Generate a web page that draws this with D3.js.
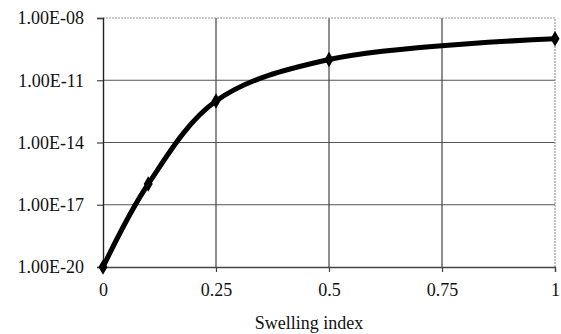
<!DOCTYPE html>
<html><head><meta charset="utf-8">
<script src="https://cdn.jsdelivr.net/npm/d3@7"></script>
<style>body{margin:0;background:#fff}</style>
</head><body>
<svg id="c" width="561" height="334"></svg>
<script>
const swellingIndex = [0, 0.1, 0.25, 0.5, 1];
const values = [1e-20, 1e-16, 1e-12, 1e-10, 1e-9];
const xTicks = [0, 0.25, 0.5, 0.75, 1];
const xTickLabels = ["0", "0.25", "0.5", "0.75", "1"];
const yTicks = [1e-20, 1e-17, 1e-14, 1e-11, 1e-8];
const yTickLabels = ["1.00E-20", "1.00E-17", "1.00E-14", "1.00E-11", "1.00E-08"];
const xTitle = "Swelling index";

const svg = d3.select("#c");
const L = 103, R = 555, T = 18, B = 267;
const x = d3.scaleLinear().domain([0, 1]).range([L, R]);
const y = d3.scaleLog().domain([1e-20, 1e-8]).range([B, T]);
const font = "'Liberation Serif','Times New Roman',serif";

svg.append("g").selectAll("line").data(yTicks.slice(1, -1)).join("line")
  .attr("x1", L).attr("x2", R).attr("y1", d => y(d)).attr("y2", d => y(d))
  .attr("stroke", "#555").attr("stroke-width", 1.2);
svg.append("g").selectAll("line").data(xTicks.slice(1, -1)).join("line")
  .attr("y1", T).attr("y2", B).attr("x1", d => x(d)).attr("x2", d => x(d))
  .attr("stroke", "#444").attr("stroke-width", 1.2);
svg.append("path").attr("d", `M${L},${T}H${R}V${B}`).attr("fill", "none")
  .attr("stroke", "#999").attr("stroke-width", 1.2).attr("stroke-dasharray", "2,1");

const yAxis = svg.append("g").attr("transform", `translate(${L},0)`)
  .call(d3.axisLeft(y).tickValues(yTicks).tickFormat((d, i) => yTickLabels[i]).tickSize(6).tickPadding(13));
yAxis.select(".domain").attr("stroke", "#222").attr("stroke-width", 1.4);
yAxis.selectAll(".tick line").attr("stroke", "#444").attr("stroke-width", 1.2);
yAxis.selectAll("text").attr("font-family", font).attr("font-size", 18).attr("fill", "#111");

const xAxis = svg.append("g").attr("transform", `translate(0,${B})`)
  .call(d3.axisBottom(x).tickValues(xTicks).tickFormat((d, i) => xTickLabels[i]).tickSize(5).tickPadding(11));
xAxis.select(".domain").attr("stroke", "#444").attr("stroke-width", 1.3);
xAxis.selectAll(".tick line").attr("stroke", "#444").attr("stroke-width", 1.2);
xAxis.selectAll("text").attr("font-family", font).attr("font-size", 18).attr("fill", "#111");

svg.append("text").attr("x", 309).attr("y", 329).attr("text-anchor", "middle")
  .attr("font-family", font).attr("font-size", 18).attr("fill", "#111").text(xTitle);

const data = swellingIndex.map((s, i) => [s, values[i]]);
svg.append("path").datum(data)
  .attr("d", d3.line().x(d => x(d[0])).y(d => y(d[1])).curve(d3.curveCatmullRom.alpha(0.5)))
  .attr("fill", "none").attr("stroke", "#000").attr("stroke-width", 5).attr("stroke-linejoin", "round");

svg.append("g").selectAll("path").data(data).join("path")
  .attr("transform", d => `translate(${x(d[0])},${y(d[1])})`)
  .attr("d", d3.symbol().type(d3.symbolDiamond).size(70))
  .attr("fill", "#000");
</script>
</body></html>
